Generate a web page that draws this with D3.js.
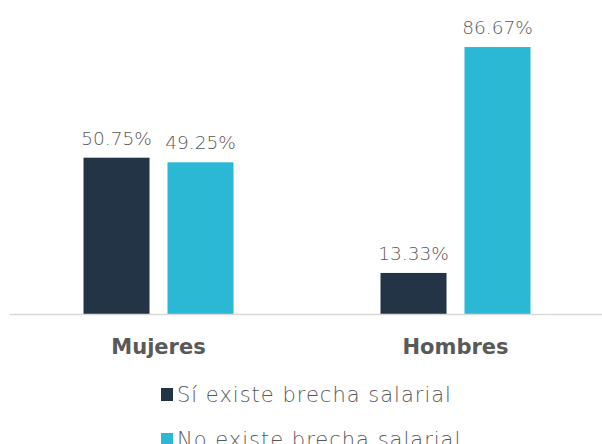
<!DOCTYPE html>
<html>
<head>
<meta charset="utf-8">
<script src="https://cdn.jsdelivr.net/npm/d3@7"></script>
<style>
  html, body { margin: 0; padding: 0; background: #fff; }
  svg { display: block; font-family: "DejaVu Sans", sans-serif; }
</style>
</head>
<body>
<svg id="chart" width="602" height="444"></svg>
<script>
// Share of respondents, by gender, who think a salary gap exists
const categories = ["Mujeres", "Hombres"];
const seriesNames = ["Sí existe brecha salarial", "No existe brecha salarial"];
const siExiste = [50.75, 13.33];
const noExiste = [49.25, 86.67];
const seriesColors = ["#243447", "#2bb8d4"];

const svg = d3.select("#chart");
const baseline = 314;
const textColor = "#595959";

const x0 = d3.scaleBand().domain(categories).range([10, 604]);
const x1 = d3.scaleBand().domain(seriesNames).range([-75, 75]).paddingInner(0.214);
const y = d3.scaleLinear().domain([0, 100]).range([baseline, 6]);

const rows = categories.map((c, i) => ({
  cat: c,
  values: [
    { s: seriesNames[0], v: siExiste[i], color: seriesColors[0] },
    { s: seriesNames[1], v: noExiste[i], color: seriesColors[1] }
  ]
}));

const groups = svg.selectAll("g.grp").data(rows).join("g")
  .attr("class", "grp")
  .attr("transform", d => `translate(${x0(d.cat) + x0.bandwidth() / 2},0)`);

groups.selectAll("rect").data(d => d.values).join("rect")
  .attr("x", d => x1(d.s))
  .attr("width", x1.bandwidth())
  .attr("y", d => y(d.v))
  .attr("height", d => baseline - y(d.v))
  .attr("fill", d => d.color);

groups.selectAll("text.val").data(d => d.values).join("text")
  .attr("class", "val")
  .attr("x", d => x1(d.s) + x1.bandwidth() / 2)
  .attr("y", d => y(d.v) - 13)
  .attr("text-anchor", "middle")
  .attr("font-size", 18.5)
  .attr("font-weight", 200)
  .attr("fill", textColor)
  .text(d => d.v.toFixed(2) + "%");

// category axis
const xAxis = svg.append("g")
  .attr("transform", `translate(0,${baseline})`)
  .call(d3.axisBottom(x0).tickSize(0).tickPadding(25));
xAxis.select(".domain").attr("stroke", "#d9d9d9").attr("stroke-width", 1.5)
  .attr("d", `M10,0.5H602`);
xAxis.selectAll("text")
  .attr("font-family", "DejaVu Sans, sans-serif")
  .attr("font-size", 21)
  .attr("font-weight", 700)
  .attr("fill", textColor);

// legend
const legend = svg.append("g").attr("transform", "translate(161,0)");
const items = legend.selectAll("g").data(seriesNames).join("g")
  .attr("transform", (d, i) => `translate(0,${402 + i * 45})`);
items.append("rect")
  .attr("x", 0).attr("y", -14).attr("width", 12).attr("height", 13)
  .attr("fill", (d, i) => seriesColors[i]);
items.append("text")
  .attr("x", 16).attr("y", 0)
  .attr("font-size", 21)
  .attr("font-weight", 200)
  .attr("letter-spacing", 1)
  .attr("fill", textColor)
  .text(d => d);
</script>
</body>
</html>
